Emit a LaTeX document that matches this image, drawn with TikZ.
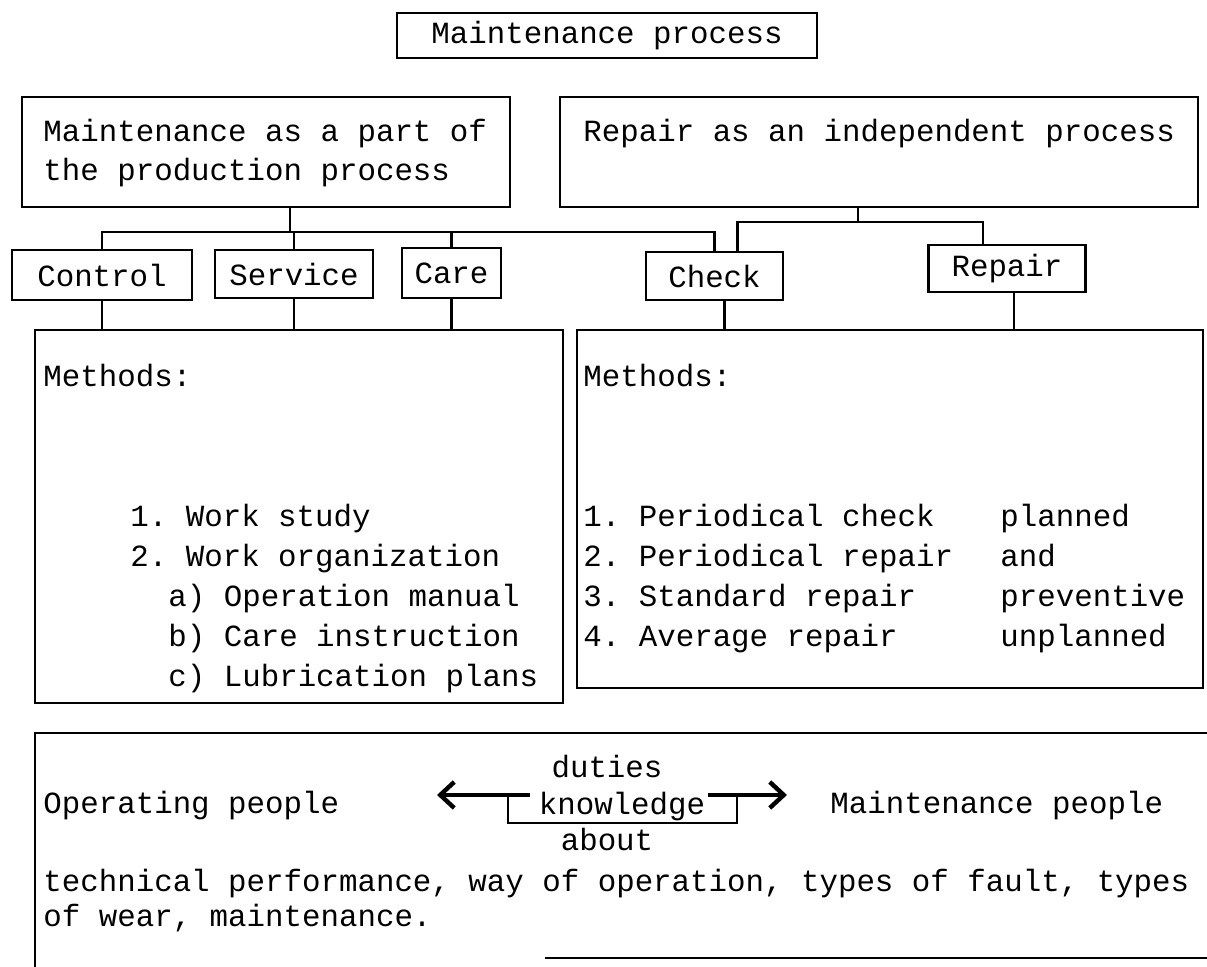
\documentclass[tikz,border=0pt]{standalone}
\usepackage{fontspec}
\setmonofont{Liberation Mono}
\usetikzlibrary{arrows.meta,positioning,calc}
\tikzset{
    %Define standard arrow tip
    >={Straight Barb[length=7pt,width=13pt]},
    %Define style for boxes
    boks/.style={
           rectangle,
           draw=black, line width=1.4pt,
           inner sep=0pt,
           font=\ttfamily\fontsize{15.4}{18}\selectfont},
    %Define style for typed lines
    tekst/.style={
           anchor=west,
           inner sep=0pt,
           text height=9pt, text depth=0pt,
           font=\ttfamily\fontsize{15.4}{18}\selectfont},
    % Define line style
    linje/.style={
           line width=1.4pt},
    % Define arrow style
    pil/.style={
           ->,
           line width=2.2pt}
}
\begin{document}
\begin{tikzpicture}[x=0.5pt,y=-0.5pt]
\useasboundingbox (0,0) rectangle (1207,967);

% top
\node[boks, minimum width=210pt, minimum height=22.5pt] (titel) at (607,35.5) {Maintenance process};

\node[boks, minimum width=244pt, minimum height=55pt] (delA) at (266,152) {};
\node[boks, minimum width=319pt, minimum height=55pt] (delB) at (879,152) {};
\node[tekst] (a1) at (43,133) {Maintenance as a part of};
\node[tekst] (a2) at (43,172) {the production process};
\node[tekst] (b1) at (583,133) {Repair as an independent process};

% second row
\node[boks, minimum width=90pt, minimum height=25pt] (control) at (102,275) {Control};
\node[boks, minimum width=79pt, minimum height=24pt] (service) at (294,274) {Service};
\node[boks, minimum width=49.5pt, minimum height=25pt] (care) at (451.5,273) {Care};
\node[boks, minimum width=68.5pt, minimum height=24pt] (check) at (714.5,276) {Check};
\node[boks, minimum width=78.5pt, minimum height=23.5pt] (repair) at (1007,268.5) {Repair};

\coordinate (jA) at (290,232);
\coordinate (jB) at (858,222);
\coordinate (cB) at ($(check.north)+(23,0)$);
\coordinate (rB) at ($(repair.north)+(-24,0)$);

\draw[linje] (delA.south -| jA) -- (jA);
\draw[linje] (control.north) -- (control.north |- jA) -- (check.north |- jA) -- (check.north);
\draw[linje] (service.north) -- (service.north |- jA);
\draw[linje] (care.north) -- (care.north |- jA);
\draw[linje] (delB.south -| jB) -- (jB);
\draw[linje] (cB) -- (cB |- jB) -- (rB |- jB) -- (rB);

% methods
\node[boks, minimum width=264pt, minimum height=186.5pt] (meth1) at (299,516.5) {};
\node[boks, minimum width=313pt, minimum height=179pt] (meth2) at (890,509) {};

\coordinate (cS) at ($(check.south)+(10,0)$);
\coordinate (rS) at ($(repair.south)+(7,0)$);
\draw[linje] (control.south) -- (control.south |- meth1.north);
\draw[linje] (service.south) -- (service.south |- meth1.north);
\draw[linje] (care.south) -- (care.south |- meth1.north);
\draw[linje] (cS) -- (cS |- meth2.north);
\draw[linje] (rS) -- (rS |- meth2.north);

\node[tekst] (m1) at (43,378) {Methods:};
\node[tekst] (m2) at (130,518) {1. Work study};
\node[tekst] (m3) at (130,558) {2. Work organization};
\node[tekst] (m4) at (168,598) {a) Operation manual};
\node[tekst] (m5) at (168,638) {b) Care instruction};
\node[tekst] (m6) at (168,678) {c) Lubrication plans};

\node[tekst] (n1) at (583,378) {Methods:};
\node[tekst] (n2) at (583,518) {1. Periodical check};
\node[tekst] (n3) at (583,558) {2. Periodical repair};
\node[tekst] (n4) at (583,598) {3. Standard repair};
\node[tekst] (n5) at (583,638) {4. Average repair};
\node[tekst] (p2) at (1000,518) {planned};
\node[tekst] (p3) at (1000,558) {and};
\node[tekst] (p4) at (1000,598) {preventive};
\node[tekst] (p5) at (1000,638) {unplanned};

% people
\draw[linje] (35,967) -- (35,733) -- (1207,733);
\draw[linje] (545,958) -- (1207,958);

\node[tekst, anchor=center] (viten) at (622,806) {knowledge};
\node[tekst, above=9.5pt of viten, xshift=-7.5pt] (plikt) {duties};
\node[tekst, below=8.5pt of viten, xshift=-7.5pt] (om) {about};
\node[tekst] (drift) at (43,805) {Operating people};
\node[tekst] (vedl) at (830,805) {Maintenance people};
\node[tekst] (t1) at (43,883) {technical performance, way of operation, types of fault, types};
\node[tekst] (t2) at (43,918) {of wear, maintenance.};

\coordinate (spissV) at (437,795);
\coordinate (spissH) at (787,795);
\coordinate (startV) at (530,795);
\coordinate (startH) at (708,795);
\coordinate (klV) at (508,795);
\coordinate (klH) at (737,795);
\draw[pil] (startV) -- (spissV);
\draw[pil] (startH) -- (spissH);
\draw[linje] (klV) -- ++(0,28) -| (klH);

\end{tikzpicture}
\end{document}
